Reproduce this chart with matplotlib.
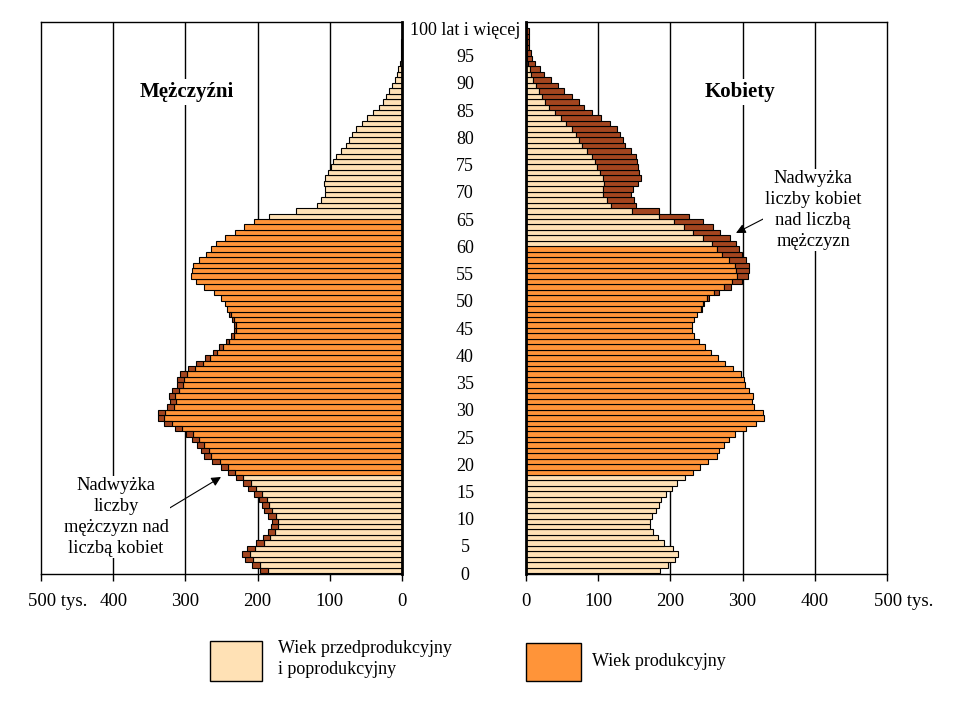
import numpy as np
import matplotlib.pyplot as plt
from matplotlib.patches import Rectangle
from matplotlib.transforms import ScaledTranslation, blended_transform_factory

plt.rcParams['font.family'] = ['Liberation Serif', 'DejaVu Serif']

# population by single year of age (thousands), ages 0..100+
ages = np.arange(0, 101)
men = np.array([
    197, 208, 218, 222, 214, 202, 193, 186, 182, 180,
    185, 191, 194, 198, 205, 213, 220, 230, 241, 251,
    263, 274, 278, 284, 291, 299, 315, 329, 338, 338,
    326, 322, 323, 318, 312, 311, 307, 296, 285, 273,
    262, 253, 244, 237, 233, 233, 235, 239, 242.5, 245,
    251, 261, 274, 286, 292, 291, 289, 281, 271, 265,
    257, 245, 231, 219, 205, 184, 147, 118, 112, 107,
    106, 108, 106, 103, 99, 95, 91, 84, 78, 73,
    69, 64, 56, 48, 40, 32, 27, 22, 18, 14,
    10, 7, 5, 3, 2, 1.5, 1, 0.8, 0.5, 0.4,
    0.3])
women = np.array([
    186, 196, 206, 210, 203, 191.5, 183, 176, 172, 171.5,
    174.7, 180.3, 184, 187.4, 194.3, 202.4, 209.5, 220, 231.4, 241,
    252.5, 264, 268, 274.3, 281, 289.7, 305, 319, 329, 328.5,
    316, 313, 314.3, 309, 303.4, 302.2, 297.8, 287, 276, 266.3,
    255.7, 247.5, 239.5, 233, 230, 230, 232, 237, 244, 247,
    253.6, 267.5, 284.5, 299.8, 308, 309, 309, 305.3, 299.8, 295.6,
    291.5, 283, 269.3, 259.6, 245.7, 226.3, 184.3, 153, 150, 146,
    148.7, 155.7, 159, 157, 155.7, 154.3, 152.5, 146, 137.6, 135,
    130.7, 126.6, 117, 104.4, 92, 81, 74, 64, 53, 45,
    34, 25.4, 19, 12, 8, 6.5, 4.6, 4.6, 3.5, 4,
    2])

# working age ranges
prod_men = (18, 64)
prod_women = (18, 59)

age_ticks = list(range(0, 100, 5)) + [100]
age_labels = [str(a) for a in range(0, 100, 5)] + ['100 lat i więcej']
x_ticks = [0, 100, 200, 300, 400, 500]
x_labels = ['0', '100', '200', '300', '400', '500 tys.']

light = '#FFE1B5'
orange = '#FF9439'
brown = '#A3451F'

W, H = 955, 719


def fx(x):
    return x / W


def fy(y):
    return 1 - y / H


def main():
    fig = plt.figure(figsize=(9.55, 7.19), dpi=100)
    ax_m = fig.add_axes([fx(41), fy(574), 361 / W, 552 / H])
    ax_w = fig.add_axes([fx(526), fy(574), 361 / W, 552 / H])

    base = np.minimum(men, women)
    extra_m = men - women
    extra_w = women - men

    col_m = [orange if prod_men[0] <= a <= prod_men[1] else light for a in ages]
    col_w = [orange if prod_women[0] <= a <= prod_women[1] else light for a in ages]

    for ax, cols, extra in ((ax_m, col_m, extra_m), (ax_w, col_w, extra_w)):
        ax.barh(ages, base, height=1.0, color=cols, edgecolor='black',
                linewidth=0.8, zorder=2)
        mask = extra > 0
        ax.barh(ages[mask], extra[mask], left=base[mask], height=1.0,
                color=brown, edgecolor='black', linewidth=0.8, zorder=2)
        ax.set_xlim(0, 500)
        ax.set_ylim(-0.68, 100.66)
        ax.set_yticks([])
        for v in (100, 200, 300, 400):
            ax.axvline(v, color='black', lw=1, zorder=1)
        ax.set_xticks(x_ticks)
        ax.set_xticklabels(x_labels, fontsize=13.5)
        ax.tick_params(axis='x', direction='out', length=5, width=1, pad=9)
        for s in ax.spines.values():
            s.set_linewidth(1)
        # "500 tys." starts a bit left of its tick
        lab = ax.get_xticklabels()[-1]
        lab.set_horizontalalignment('left')
        lab.set_transform(lab.get_transform() +
                          ScaledTranslation(-13 / 100, 0, fig.dpi_scale_trans))

    ax_m.invert_xaxis()
    ax_m.spines['right'].set_linewidth(2)
    ax_w.spines['left'].set_linewidth(2)

    # age labels between the panels
    tr = blended_transform_factory(ax_w.transAxes, ax_w.transData)
    for a, t in zip(age_ticks, age_labels):
        ax_w.text((465 - 526) / 361, a - 0.9, t, transform=tr, ha='center',
                  va='center', fontsize=13, clip_on=False)

    fig.text(fx(187), fy(92), 'Mężczyźni', ha='center', va='center',
             fontsize=15, fontweight='bold',
             bbox=dict(facecolor='white', edgecolor='none', pad=2))
    fig.text(fx(740), fy(92), 'Kobiety', ha='center', va='center',
             fontsize=15, fontweight='bold',
             bbox=dict(facecolor='white', edgecolor='none', pad=2))

    arrow = dict(arrowstyle='-|>', color='black', lw=0.8, mutation_scale=14,
                 shrinkA=0, shrinkB=0)
    fig.text(fx(116), fy(517), 'Nadwyżka\nliczby\nmężczyzn nad\nliczbą kobiet',
             ha='center', va='center', fontsize=13.3, linespacing=1.3,
             bbox=dict(facecolor='white', edgecolor='none', pad=1))
    fig.add_artist(plt.Annotation('', xy=(fx(221), fy(477)),
                                  xytext=(fx(168), fy(509)),
                                  xycoords='figure fraction',
                                  arrowprops=arrow))
    fig.text(fx(813), fy(210), 'Nadwyżka\nliczby kobiet\nnad liczbą\nmężczyzn',
             ha='center', va='center', fontsize=13.3, linespacing=1.3,
             bbox=dict(facecolor='white', edgecolor='none', pad=1))
    fig.add_artist(plt.Annotation('', xy=(fx(736), fy(233)),
                                  xytext=(fx(769), fy(216)),
                                  xycoords='figure fraction',
                                  arrowprops=arrow))

    # legend
    fig.add_artist(Rectangle((fx(210), fy(681)), 52 / W, 40 / H,
                             facecolor=light, edgecolor='black', lw=1,
                             transform=fig.transFigure))
    fig.add_artist(Rectangle((fx(526), fy(681)), 55 / W, 38 / H,
                             facecolor=orange, edgecolor='black', lw=1,
                             transform=fig.transFigure))
    fig.text(fx(278), fy(659), 'Wiek przedprodukcyjny\ni poprodukcyjny',
             ha='left', va='center', fontsize=13, linespacing=1.25)
    fig.text(fx(592), fy(662), 'Wiek produkcyjny', ha='left', va='center',
             fontsize=13)

    fig.savefig('out.png', dpi=100)


if __name__ == '__main__':
    main()
